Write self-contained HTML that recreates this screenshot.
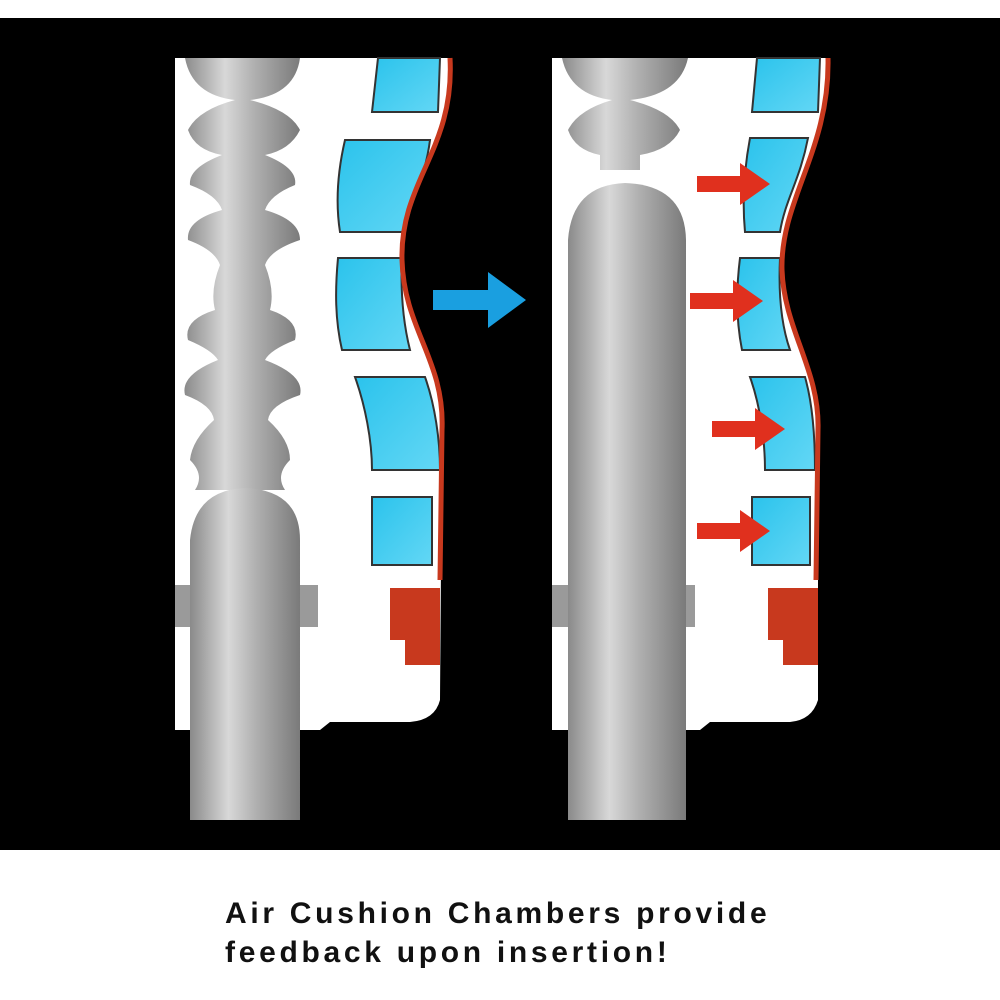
<!DOCTYPE html>
<html><head><meta charset="utf-8"><style>
html,body{margin:0;padding:0;background:#fff;width:1000px;height:1000px;overflow:hidden}
.cap{position:absolute;left:225px;font:bold 30px "Liberation Sans",sans-serif;letter-spacing:3.7px;color:#111}
</style></head><body>
<svg width="1000" height="1000" style="position:absolute;left:0;top:0">
<defs>
<linearGradient id="g" x1="0" x2="1"><stop offset="0" stop-color="#8a8a8a"/><stop offset=".35" stop-color="#d8d8d8"/><stop offset=".6" stop-color="#b0b0b0"/><stop offset="1" stop-color="#7a7a7a"/></linearGradient>
<linearGradient id="b" x1="0" x2="1" y1="0" y2="1"><stop offset="0" stop-color="#2bc3ec"/><stop offset="1" stop-color="#63d7f5"/></linearGradient>
</defs>
<rect x="0" y="18" width="1000" height="832" fill="#000"/>
<!-- LEFT PANEL -->
<path d="M175 58 H452 C455 150 400 180 402 260 C404 330 445 360 442 430 L440 700 Q435 720 410 722 H330 L320 730 H175 Z" fill="#fff"/>
<g fill="url(#b)" stroke="#333" stroke-width="2">
<path d="M378 58 H440 L438 112 H372 Z"/>
<path d="M345 140 H430 C425 180 410 200 405 232 H340 C335 200 338 170 345 140 Z"/>
<path d="M338 258 H402 C400 300 405 330 410 350 H342 C335 320 335 290 338 258 Z"/>
<path d="M355 377 H425 C435 405 440 440 440 470 H372 C372 440 365 405 355 377 Z"/>
<path d="M372 497 H432 L432 565 H372 Z"/>
</g>
<path d="M450 58 C455 150 400 180 402 260 C404 330 445 360 442 430 L440 580" fill="none" stroke="#c8391e" stroke-width="5"/>
<path d="M390 588 H440 V665 H405 V640 H390 Z" fill="#c8391e"/>
<rect x="175" y="585" width="143" height="42" fill="#9a9a9a"/>
<g fill="url(#g)">
<path d="M185 58 H300 Q295 95 250 100 Q290 110 300 130 Q290 150 265 155 Q298 168 295 185 Q270 195 265 210 Q300 220 300 240 Q270 250 265 265 Q275 290 270 310 Q300 320 295 340 Q270 350 265 360 Q305 375 300 395 Q270 405 268 420 Q290 440 290 460 Q275 475 285 490 H195 Q205 475 190 460 Q192 440 214 420 Q212 405 185 395 Q180 375 218 360 Q212 350 188 340 Q183 320 215 310 Q210 290 220 265 Q215 250 188 240 Q186 220 222 210 Q217 195 190 185 Q188 168 222 155 Q195 150 188 130 Q198 110 235 100 Q192 95 185 58 Z"/>
<path d="M190 820 V540 Q195 490 245 488 Q300 490 300 540 V820 Z"/>
</g>
<!-- RIGHT PANEL -->
<path d="M552 58 H830 C830 150 780 200 782 270 C784 330 820 370 818 430 L818 700 Q812 720 790 722 H710 L700 730 H552 Z" fill="#fff"/>
<g fill="url(#b)" stroke="#333" stroke-width="2">
<path d="M757 58 H820 L818 112 H752 Z"/>
<path d="M750 138 H808 C800 180 785 200 780 232 H745 C742 200 744 170 750 138 Z"/>
<path d="M740 258 H780 C778 300 783 330 790 350 H742 C736 320 736 290 740 258 Z"/>
<path d="M750 377 H805 C813 405 815 440 815 470 H765 C765 440 760 405 750 377 Z"/>
<path d="M752 497 H810 L810 565 H752 Z"/>
</g>
<path d="M828 58 C830 150 780 200 782 270 C784 330 820 370 818 430 L816 580" fill="none" stroke="#c8391e" stroke-width="5"/>
<path d="M768 588 H818 V665 H783 V640 H768 Z" fill="#c8391e"/>
<rect x="552" y="585" width="143" height="42" fill="#9a9a9a"/>
<g fill="url(#g)">
<path d="M562 58 H688 Q680 95 630 100 Q670 110 680 130 Q670 150 640 155 L640 170 H600 L600 155 Q575 150 568 130 Q578 110 612 100 Q570 95 562 58 Z"/>
<path d="M568 820 V240 Q572 185 625 183 Q685 185 686 240 V820 Z"/>
</g>
<!-- Arrows -->
<path d="M433 290 H488 V272 L526 300 L488 328 V310 H433 Z" fill="#1a9fe0"/>
<g fill="#e0301e">
<path d="M697 176 H740 V163 L770 184 L740 205 V192 H697 Z"/>
<path d="M690 293 H733 V280 L763 301 L733 322 V309 H690 Z"/>
<path d="M712 421 H755 V408 L785 429 L755 450 V437 H712 Z"/>
<path d="M697 523 H740 V510 L770 531 L740 552 V539 H697 Z"/>
</g>
</svg>
<div class="cap" style="top:897px">Air Cushion Chambers provide</div>
<div class="cap" style="top:936px">feedback upon insertion!</div>
</body></html>
